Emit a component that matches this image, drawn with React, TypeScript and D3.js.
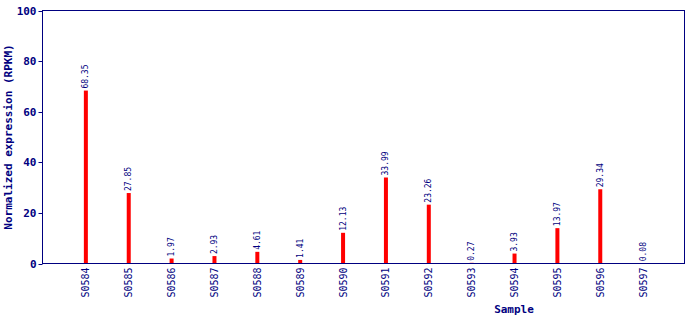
import React from "react";
import * as d3 from "d3";

const categories = ["S0584","S0585","S0586","S0587","S0588","S0589","S0590","S0591","S0592","S0593","S0594","S0595","S0596","S0597"];
const values = [68.35,27.85,1.97,2.93,4.61,1.41,12.13,33.99,23.26,0.27,3.93,13.97,29.34,0.08];
const valueLabels = ["68.35","27.85","1.97","2.93","4.61","1.41","12.13","33.99","23.26","0.27","3.93","13.97","29.34","0.08"];
const yTicks = [0,20,40,60,80,100];

const W = 690, H = 320;
const left = 42.5, right = 684.5, top = 10.5, bottom = 263.5;
const navy = "#000080";
const mono = "'DejaVu Sans Mono', 'Liberation Mono', monospace";

export default function App() {
  React.useEffect(() => { document.body.style.margin = "0"; }, []);
  const x = d3.scalePoint<string>().domain(categories).range([left + 0.5, right + 1.5]).padding(1);
  const y = d3.scaleLinear().domain([0, 100]).range([bottom, top]);
  return (
    <svg width={W} height={H} style={{ display: "block", textRendering: "optimizeSpeed" }}>
      <rect x={0} y={0} width={W} height={H} fill="#fff" />
      {categories.map((c, i) => {
        const cx = x(c)!;
        const yv = y(values[i]);
        return (
          <g key={c}>
            <rect x={cx - 2} y={yv} width={4} height={bottom - yv} fill="#ff0000" />
            <text transform={`translate(${cx},${Math.min(yv - 2, bottom - 1)}) rotate(-90)`} dominantBaseline="central" fontFamily={mono} fontSize={8} fill={navy}>{valueLabels[i]}</text>
            <text transform={`translate(${cx},${bottom + 4}) rotate(-90)`} textAnchor="end" dominantBaseline="central" fontFamily={mono} fontSize={10} fill={navy}>{c}</text>
          </g>
        );
      })}
      <rect x={left} y={top} width={right - left} height={bottom - top} fill="none" stroke={navy} strokeWidth={1} />
      {yTicks.map(t => (
        <g key={t}>
          <line x1={left - 4} x2={left} y1={Math.round(y(t)) + 0.5} y2={Math.round(y(t)) + 0.5} stroke={navy} />
          <text x={left - 6} y={y(t) + 4} textAnchor="end" fontFamily={mono} fontSize={11} fontWeight="bold" fill={navy}>{t}</text>
        </g>
      ))}
      <text transform={`translate(12,${(top + bottom) / 2}) rotate(-90)`} textAnchor="middle" fontFamily={mono} fontSize={11} fontWeight="bold" fill={navy}>Normalized expression (RPKM)</text>
      <text x={514} y={313} textAnchor="middle" fontFamily={mono} fontSize={11} fontWeight="bold" fill={navy}>Sample</text>
    </svg>
  );
}
